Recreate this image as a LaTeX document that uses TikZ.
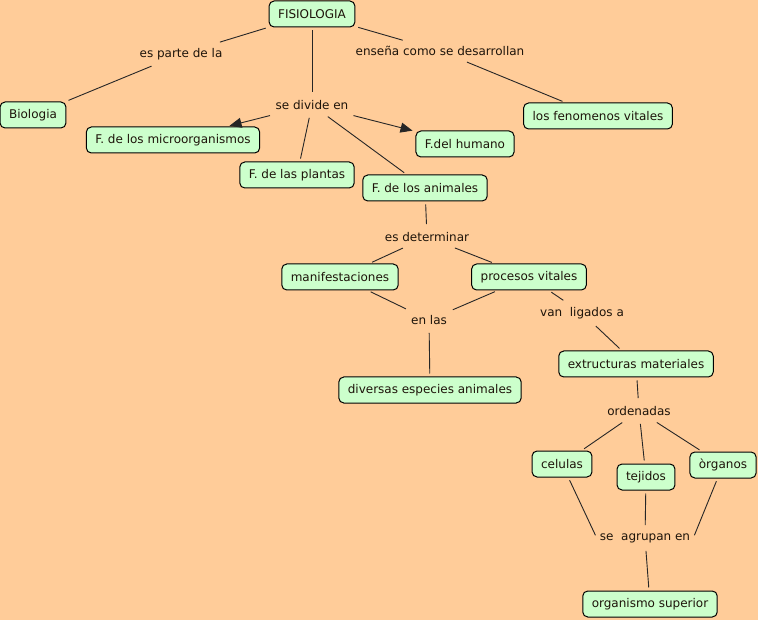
\documentclass[tikz,border=0pt]{standalone}
\usepackage{fontspec}
\setmainfont{DejaVu Sans}
\usetikzlibrary{arrows.meta}
\definecolor{bgpeach}{RGB}{255,204,153}
\definecolor{boxgreen}{RGB}{204,255,204}
\definecolor{inktext}{RGB}{30,20,10}
\begin{document}
\begin{tikzpicture}[x=1pt,y=-1pt,
  concept/.style={draw=black,line width=1pt,fill=boxgreen,rounded corners=5pt,
    inner xsep=9pt,inner ysep=0pt,minimum height=26pt,text=inktext,
    font=\fontsize{12}{14}\selectfont},
  linkword/.style={inner xsep=3pt,inner ysep=5pt,text=inktext,
    font=\fontsize{12}{14}\selectfont},
  link/.style={draw=black!85,line width=0.9pt,shorten <=3pt,shorten >=3pt},
  linkarrow/.style={link,-{Triangle[length=12pt,width=10pt]}}]
\fill[bgpeach] (0,0) rectangle (758,620);
\useasboundingbox (0,0) rectangle (758,620);

% concepts
\node[concept] (fis) at (312,14) {FISIOLOGIA};
\node[concept] (bio) at (33,115) {Biologia};
\node[concept] (micro) at (173,140) {F. de los microorganismos};
\node[concept] (plan) at (297,175) {F. de las plantas};
\node[concept] (anim) at (425,188) {F. de los animales};
\node[concept] (hum) at (465,144) {F.del humano};
\node[concept] (fen) at (598,116) {los fenomenos vitales};
\node[concept] (man) at (340,277) {manifestaciones};
\node[concept] (proc) at (529,277) {procesos vitales};
\node[concept] (div) at (430,390) {diversas especies animales};
\node[concept] (ext) at (636,364) {extructuras materiales};
\node[concept] (cel) at (562,464) {celulas};
\node[concept] (tej) at (646,477) {tejidos};
\node[concept] (org) at (723,465) {òrganos};
\node[concept] (sup) at (650,604) {organismo superior};

% linking words
\node[linkword] (lparte) at (181,54) {es parte de la};
\node[linkword] (lense) at (440,51) {enseña como se desarrollan};
\node[linkword] (ldiv) at (312,105) {se divide en};
\node[linkword] (ldet) at (427,237) {es determinar};
\node[linkword] (lenlas) at (429,320) {en las};
\node[linkword] (lvan) at (582,313) {van\ \ ligados a};
\node[linkword] (lord) at (639,411) {ordenadas};
\node[linkword] (lagr) at (645,538) {se\ \ agrupan en};

% connectors
\draw[link] (fis) -- (lparte);
\draw[link] (lparte) -- (bio);
\draw[link] (fis) -- (lense);
\draw[link] (lense) -- (fen);
\draw[link] (fis) -- (ldiv);
\draw[linkarrow] (ldiv) -- (micro);
\draw[link] (ldiv) -- (plan);
\draw[link] (ldiv) -- (anim);
\draw[linkarrow] (ldiv) -- (hum);
\draw[link] (anim) -- (ldet);
\draw[link] (ldet) -- (man);
\draw[link] (ldet) -- (proc);
\draw[link] (man) -- (lenlas);
\draw[link] (proc) -- (lenlas);
\draw[link] (lenlas) -- (div);
\draw[link] (proc) -- (lvan);
\draw[link] (lvan) -- (ext);
\draw[link] (ext) -- (lord);
\draw[link] (lord) -- (cel);
\draw[link] (lord) -- (tej);
\draw[link] (lord) -- (org);
\draw[link] (cel) -- (lagr.west);
\draw[link] (tej) -- (lagr);
\draw[link] (org) -- (lagr.east);
\draw[link] (lagr) -- (sup);
\end{tikzpicture}
\end{document}
